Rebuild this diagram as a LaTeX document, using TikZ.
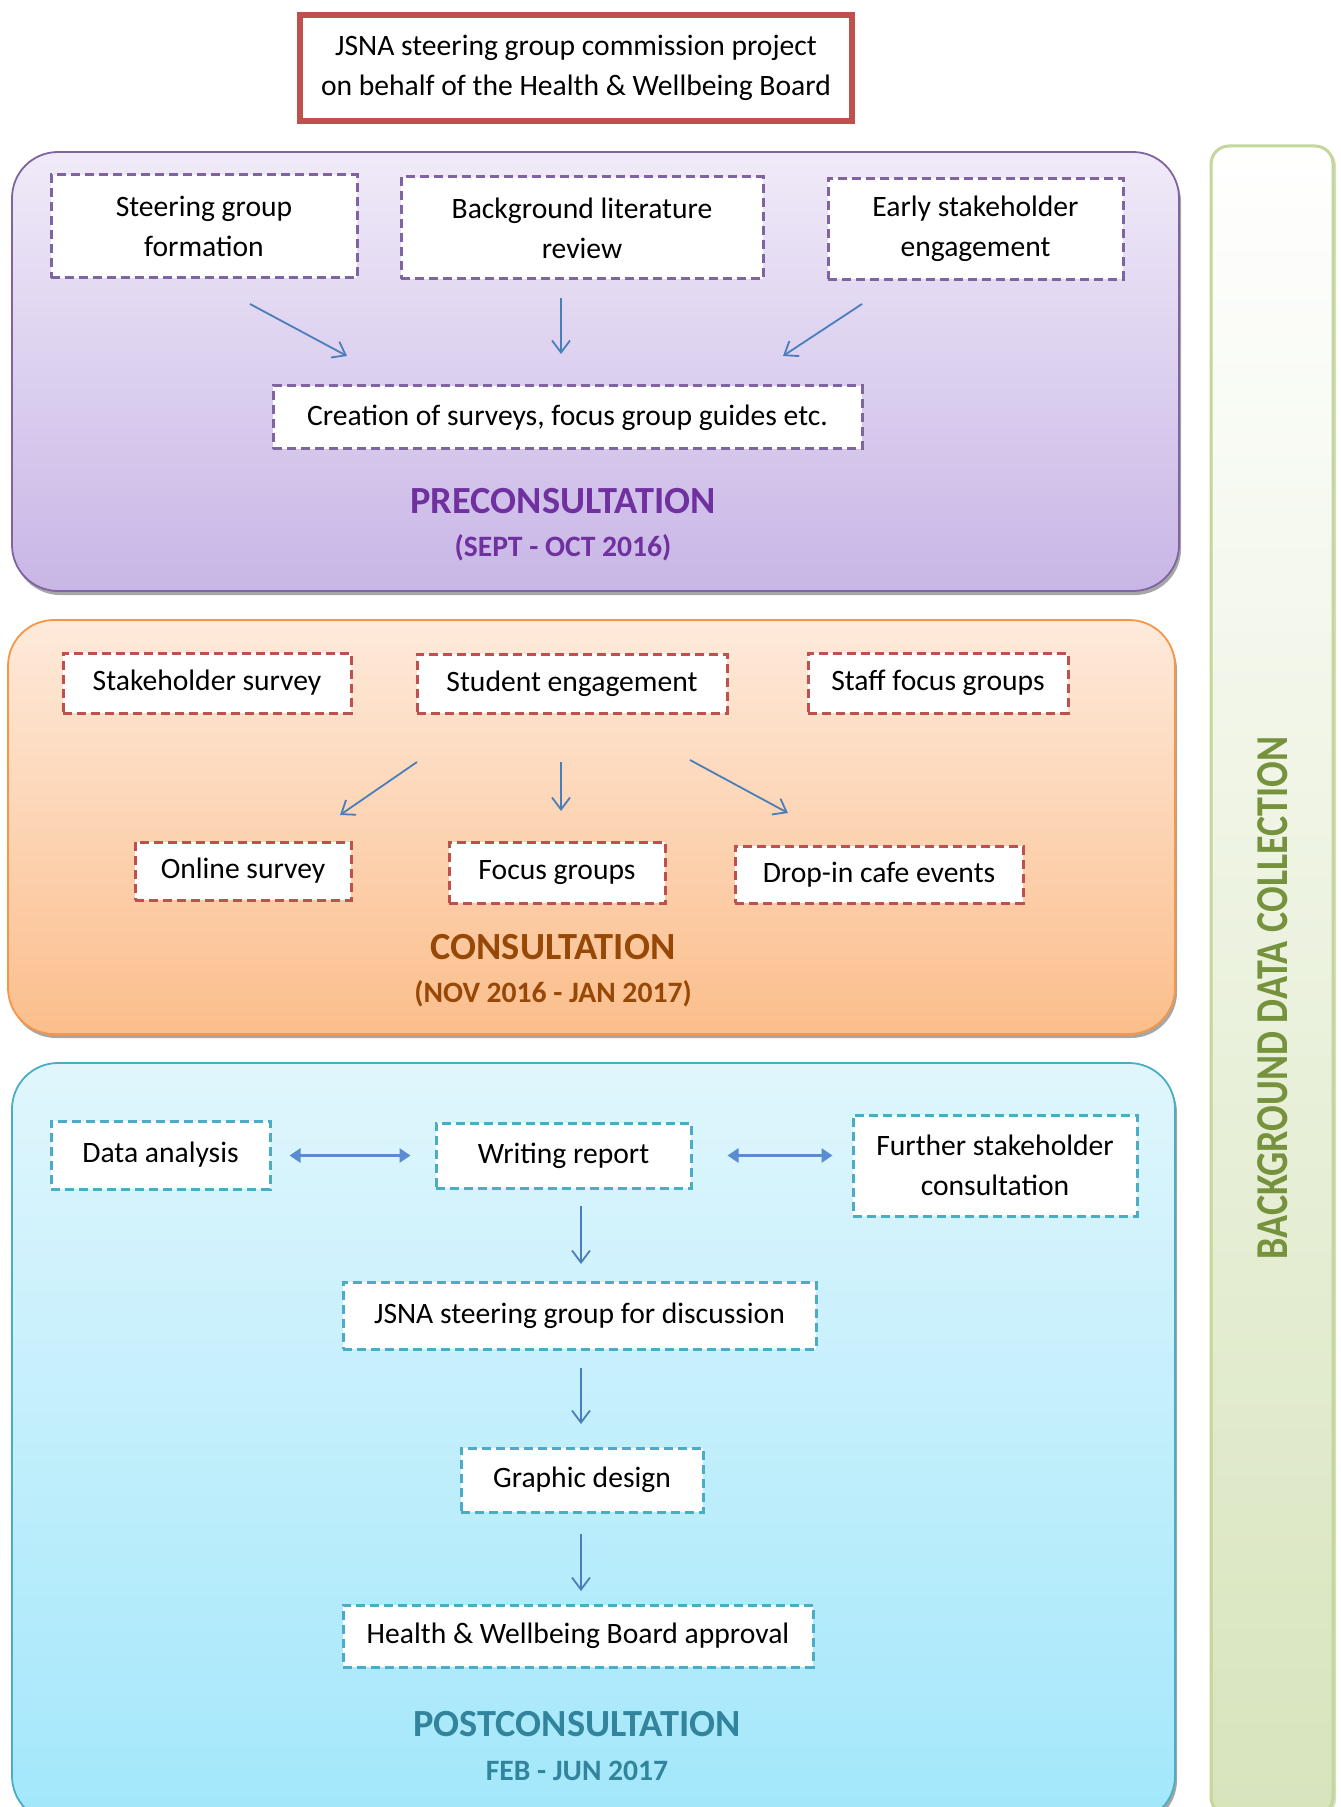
\documentclass[tikz,border=0pt]{standalone}
\usepackage{fontspec}
\setmainfont{Carlito}
\usetikzlibrary{arrows.meta,shadows}
\definecolor{redB}{HTML}{C0504D}
\definecolor{purpleB}{HTML}{8064A2}
\definecolor{purpleT}{HTML}{F0EAF8}
\definecolor{purpleBt}{HTML}{C8B6E6}
\definecolor{purpleTxt}{HTML}{7030A0}
\definecolor{orangeB}{HTML}{F79646}
\definecolor{orangeT}{HTML}{FEEADB}
\definecolor{orangeBt}{HTML}{FBBE8C}
\definecolor{orangeTxt}{HTML}{974806}
\definecolor{blueB}{HTML}{4BACC6}
\definecolor{blueT}{HTML}{E0F6FC}
\definecolor{blueBt}{HTML}{A2E7FB}
\definecolor{blueTxt}{HTML}{31849B}
\definecolor{greenB}{HTML}{C3D69B}
\definecolor{greenD}{HTML}{A8BF80}
\definecolor{greenBt}{HTML}{D7E4BC}
\definecolor{greenTxt}{HTML}{76923C}
\definecolor{arrowblue}{HTML}{4A7EBB}
\definecolor{dblblue}{HTML}{5B8BD0}
\begin{document}
\begin{tikzpicture}[x=0.5pt,y=-0.5pt,
  txt/.style={font=\fontsize{14.8}{20}\selectfont, align=center, inner sep=0pt},
  panel/.style={line width=0.9pt, rounded corners=23pt,
     drop shadow={shadow xshift=1pt, shadow yshift=-2pt, fill=black, opacity=0.35}},
  dashbox/.style={txt, fill=white, line width=1.5pt, dash pattern=on 4.5pt off 2.5pt},
  purplebox/.style={dashbox, draw=purpleB},
  redbox/.style={dashbox, draw=redB},
  bluebox/.style={dashbox, draw=blueB},
  heading/.style={font=\fontsize{19.2}{22}\bfseries\selectfont},
  subheading/.style={font=\fontsize{14.8}{18}\bfseries\selectfont},
  arr/.style={draw=arrowblue, line width=0.9pt, -{Straight Barb[length=6pt,width=9pt]}},
  dbl/.style={draw=dblblue, line width=1.8pt, {Triangle[length=5.5pt,width=7pt]}-{Triangle[length=5.5pt,width=7pt]}}
]
\useasboundingbox (0,0) rectangle (1340,1807);
\clip (0,0) rectangle (1340,1807);

% side panel
\path[draw=greenB, line width=1.5pt, top color=white, bottom color=greenBt, rounded corners=9pt,
  drop shadow={shadow xshift=1.5pt, shadow yshift=-1pt, fill=greenD}]
  (1211,146) rectangle (1333,1815);
\node[rotate=90, text=greenTxt, font=\fontsize{19}{22}\bfseries\selectfont] (sidelbl) at (1273,998)
  {\scalebox{1}[1.2]{BACKGROUND DATA COLLECTION}};

% top box
\node[txt, draw=redB, line width=2.8pt, fill=white, minimum width=276pt, minimum height=53pt] (top) at (576,68)
  {JSNA steering group commission project\\on behalf of the Health \& Wellbeing Board};

% ---------- preconsultation
\path[panel, draw=purpleB, top color=purpleT, bottom color=purpleBt] (12,152) rectangle (1179,591);
\node[purplebox, minimum width=153pt, minimum height=51.5pt] (sgf) at (204,226.5) {Steering group\\formation};
\node[purplebox, minimum width=181pt, minimum height=51pt] (blr) at (582,228) {Background literature\\review};
\node[purplebox, minimum width=147.5pt, minimum height=50.5pt] (ese) at (975.5,229) {Early stakeholder\\engagement};
\node[purplebox, minimum width=294.5pt, minimum height=31.5pt] (cos) at (567.5,417.5) {Creation of surveys, focus group guides etc.};
\node[heading, text=purpleTxt] (prelbl) at (563,501) {PRECONSULTATION};
\node[subheading, text=purpleTxt] (predate) at (563,548) {(SEPT - OCT 2016)};
\coordinate (p1s) at (250,304); \coordinate (p1e) at (347,356);
\coordinate (p2s) at (561,298); \coordinate (p2e) at (561,354);
\coordinate (p3s) at (862,304); \coordinate (p3e) at (783,356);
\draw[arr] (p1s) -- (p1e);
\draw[arr] (p2s) -- (p2e);
\draw[arr] (p3s) -- (p3e);

% ---------- consultation
\path[panel, draw=orangeB, top color=orangeT, bottom color=orangeBt] (8,620) rectangle (1175,1034);
\node[redbox, minimum width=144pt, minimum height=30pt] (ss) at (207,683) {Stakeholder survey};
\node[redbox, minimum width=155pt, minimum height=29.5pt] (se) at (572,683.5) {Student engagement};
\node[redbox, minimum width=130pt, minimum height=30pt] (sfg) at (938,683) {Staff focus groups};
\node[redbox, minimum width=108pt, minimum height=29pt] (os) at (243,871) {Online survey};
\node[redbox, minimum width=108pt, minimum height=30.5pt] (fg) at (557,872.5) {Focus groups};
\node[redbox, minimum width=144pt, minimum height=28.5pt] (dce) at (879,874.5) {Drop-in cafe events};
\node[heading, text=orangeTxt] (conlbl) at (553,947) {CONSULTATION};
\node[subheading, text=orangeTxt] (condate) at (553,994) {(NOV 2016 - JAN 2017)};
\coordinate (c1s) at (417,762); \coordinate (c1e) at (340,815);
\coordinate (c2s) at (561,762); \coordinate (c2e) at (561,811);
\coordinate (c3s) at (690,760); \coordinate (c3e) at (788,813);
\draw[arr] (c1s) -- (c1e);
\draw[arr] (c2s) -- (c2e);
\draw[arr] (c3s) -- (c3e);

% ---------- postconsultation
\path[panel, draw=blueB, top color=blueT, bottom color=blueBt] (12,1063) rectangle (1175,1822);
\node[bluebox, minimum width=109.5pt, minimum height=34pt] (da) at (160.5,1155) {Data analysis};
\node[bluebox, minimum width=127.5pt, minimum height=32.5pt] (wr) at (563.5,1155.5) {Writing report};
\node[bluebox, minimum width=142pt, minimum height=50.5pt] (fsc) at (995,1165.5) {Further stakeholder\\consultation};
\node[bluebox, minimum width=236.5pt, minimum height=33.5pt] (jsg) at (579.5,1315.5) {JSNA steering group for discussion};
\node[bluebox, minimum width=121pt, minimum height=32pt] (gd) at (582,1480) {Graphic design};
\node[bluebox, minimum width=235pt, minimum height=31pt] (hwb) at (578,1636) {Health \& Wellbeing Board approval};
\node[heading, text=blueTxt] (postlbl) at (577,1724) {POSTCONSULTATION};
\node[subheading, text=blueTxt] (postdate) at (577,1771) {FEB - JUN 2017};
\draw[dbl, shorten <=9pt, shorten >=12pt] (da.east |- wr.west) -- (wr.west);
\draw[dbl, shorten <=17.5pt, shorten >=9.5pt] (wr.east) -- (wr.east -| fsc.west);
\coordinate (b1s) at (581,1206); \coordinate (b1e) at (581,1264);
\coordinate (b2s) at (581,1368); \coordinate (b2e) at (581,1424);
\coordinate (b3s) at (581,1534); \coordinate (b3e) at (581,1591);
\draw[arr] (b1s) -- (b1e);
\draw[arr] (b2s) -- (b2e);
\draw[arr] (b3s) -- (b3e);
\end{tikzpicture}
\end{document}
